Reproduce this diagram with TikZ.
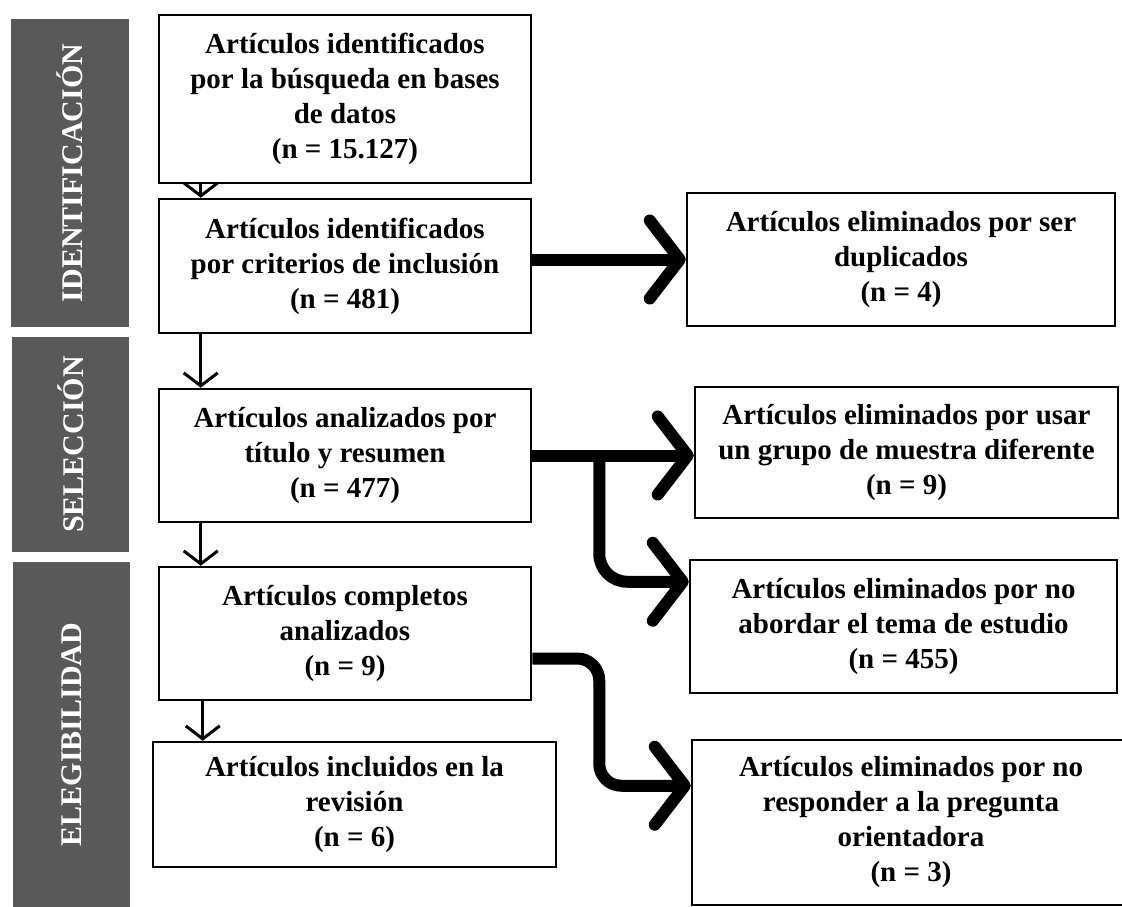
\documentclass[tikz,border=0pt]{standalone}
\usepackage{fontspec}
\setmainfont{Liberation Serif}
\usetikzlibrary{arrows.meta, positioning}
\definecolor{phasegray}{HTML}{595959}

\begin{document}
\begin{tikzpicture}[
  x=1pt, y=-1pt,
  box/.style={draw, line width=2.5pt, fill=white, align=center, inner sep=0pt,
    font=\bfseries\fontsize{29}{35}\selectfont},
  phase/.style={fill=phasegray, text=white, rotate=90, inner sep=0pt,
    font=\bfseries\fontsize{30}{36}\selectfont},
  down arrow/.style={line width=3pt, -{Straight Barb[length=13pt,width=34pt]}},
  out arrow/.style={line width=12pt, line join=round,
    -{Straight Barb[length=30pt,width=78pt,round]}}
]
\useasboundingbox (0,0) rectangle (1122,907);

% phases
\node[phase, minimum width=308, minimum height=118] (pident) at (70,173) {IDENTIFICACIÓN};
\node[phase, minimum width=215, minimum height=117] (psel) at (70.5,444.5) {SELECCIÓN};
\node[phase, minimum width=345, minimum height=117] (pelig) at (71.5,734.5) {ELEGIBILIDAD};

% main column
\node[box, minimum width=372, minimum height=168] (ident) at (345,99)
  {Artículos identificados\\por la búsqueda en bases\\de datos\\(n = 15.127)};
\node[box, minimum width=372, minimum height=134] (incl) at (345,266)
  {Artículos identificados\\por criterios de inclusión\\(n = 481)};
\node[box, minimum width=372, minimum height=133] (titulo) at (345,455.5)
  {Artículos analizados por\\título y resumen\\(n = 477)};
\node[box, minimum width=372, minimum height=133] (compl) at (345,633.5)
  {Artículos completos\\analizados\\(n = 9)};
\node[box, minimum width=403, minimum height=125] (final) at (354.5,804.5)
  {Artículos incluidos en la\\revisión\\(n = 6)};

% excluded
\node[box, minimum width=428, minimum height=133] (dupl) at (901,259.5)
  {Artículos eliminados por ser\\duplicados\\(n = 4)};
\node[box, minimum width=423, minimum height=131] (grupo) at (906.5,452.5)
  {Artículos eliminados por usar\\un grupo de muestra diferente\\(n = 9)};
\node[box, minimum width=427, minimum height=133] (tema) at (903.5,626.5)
  {Artículos eliminados por no\\abordar el tema de estudio\\(n = 455)};
\node[box, minimum width=438, minimum height=165] (preg) at (911,822.5)
  {Artículos eliminados por no\\responder a la pregunta\\orientadora\\(n = 3)};

% flow down
\draw[down arrow] ([xshift=43pt]ident.south west) -- ([xshift=43pt]incl.north west);
\draw[down arrow] ([xshift=43pt]incl.south west) -- ([xshift=43pt]titulo.north west);
\draw[down arrow] ([xshift=43pt]titulo.south west) -- ([xshift=43pt]compl.north west);
\draw[down arrow] ([xshift=45pt]compl.south west) -- ([xshift=45pt]compl.south west |- final.north);

% exclusions
\draw[out arrow] (incl.east |- dupl.west) -- (dupl.west);
\draw[out arrow] (titulo.east) -- (titulo.east -| grupo.west);
\coordinate (j3) at ([xshift=67pt]titulo.east);
\coordinate (t3) at ([yshift=-23pt]tema.north west);
\draw[out arrow, rounded corners=28pt] (j3) |- (t3);
\coordinate (s4) at ([yshift=-25pt]compl.east);
\coordinate (j4) at ([xshift=67pt]s4);
\coordinate (t4) at ([yshift=-47pt]preg.north west);
\draw[out arrow, rounded corners=22pt] (s4) -- (j4) |- (t4);
\end{tikzpicture}
\end{document}
